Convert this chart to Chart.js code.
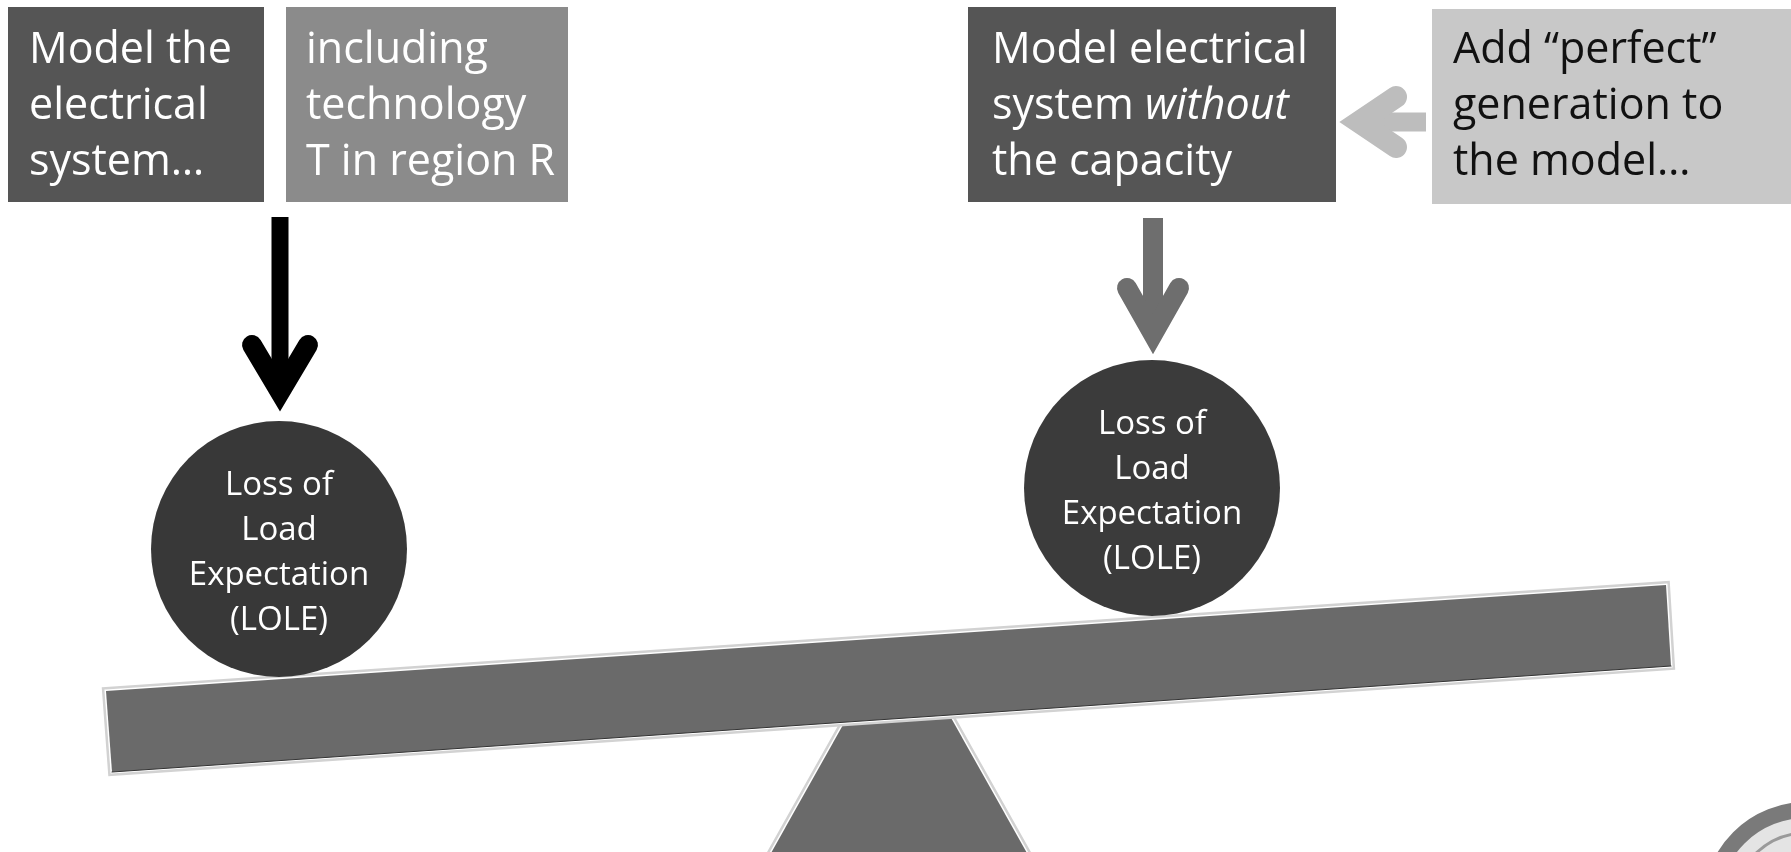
<!DOCTYPE html>
<html lang="en">

<head>
  <meta charset="UTF-8">
  <title>LOLE balance</title>
  <style>
    html, body { margin: 0; padding: 0; background: #ffffff; overflow: hidden; }
    #wrap { width: 1791px; height: 852px; }
  </style>
</head>

<body>
  <div id="wrap">
    <canvas id="myChart" width="1791" height="852"></canvas>
  </div>

  <script src="https://cdn.jsdelivr.net/npm/chart.js"></script>

  <script>
    // texts of the four boxes, one array per box
    const box1Lines = ['Model the', 'electrical', 'system\u2026'];
    const box2Lines = ['including', 'technology', 'T in region R'];
    const box3Lines = ['Model electrical', 'system without', 'the capacity'];
    const box4Lines = ['Add \u201Cperfect\u201D', 'generation to', 'the model\u2026'];
    const italicWords = ['without'];

    // text inside the two balls
    const ballLines = ['Loss of', 'Load', 'Expectation', '(LOLE)'];

    // layout (in scale units, 0..1791 x 0..852)
    const boxRects = [[8, 7, 264, 202], [286, 7, 568, 202], [968, 7, 1336, 202], [1432, 9, 1791, 204]];
    const boxFill = ['#555555', '#8b8b8b', '#555555', '#c8c8c8'];
    const boxInk = ['#ffffff', '#ffffff', '#ffffff', '#111111'];
    const boxTextX = [29, 306, 992, 1453];
    const ballX = [279, 1152];
    const ballY = [549, 488];
    const ballFill = ['#383838', '#3b3b3b'];

    const ctx = document.getElementById('myChart').getContext('2d');

    const diagram = {
      id: 'diagram',
      beforeDatasetsDraw(chart) {
        const c = chart.ctx;
        const sx = chart.scales.x, sy = chart.scales.y;
        const px = v => sx.getPixelForValue(v);
        const py = v => sy.getPixelForValue(v);

        const poly = (pts, fill, halo) => {
          c.beginPath();
          pts.forEach((p, i) => i ? c.lineTo(px(p[0]), py(p[1])) : c.moveTo(px(p[0]), py(p[1])));
          c.closePath();
          if (halo) {
            c.strokeStyle = halo;
            c.lineWidth = 8;
            c.lineJoin = 'miter';
            c.stroke();
            c.strokeStyle = '#ffffff';
            c.lineWidth = 3;
            c.stroke();
          }
          c.fillStyle = fill;
          c.fill();
        };

        const arrow = (tail, tip, barbA, barbB, shaftW, headW, color) => {
          c.strokeStyle = color;
          c.lineCap = 'butt';
          c.lineWidth = shaftW;
          c.beginPath();
          c.moveTo(px(tail[0]), py(tail[1]));
          c.lineTo(px(tip[0]), py(tip[1]));
          c.stroke();
          c.lineWidth = headW;
          c.lineCap = 'round';
          c.lineJoin = 'miter';
          c.miterLimit = 10;
          c.beginPath();
          c.moveTo(px(barbA[0]), py(barbA[1]));
          c.lineTo(px(tip[0]), py(tip[1]));
          c.lineTo(px(barbB[0]), py(barbB[1]));
          c.stroke();
        };

        c.save();

        // boxes
        boxRects.forEach((r, i) => {
          c.fillStyle = boxFill[i];
          c.fillRect(px(r[0]), py(r[1]), px(r[2]) - px(r[0]), py(r[3]) - py(r[1]));
        });

        // box texts
        [box1Lines, box2Lines, box3Lines, box4Lines].forEach((lines, i) => {
          c.fillStyle = boxInk[i];
          c.textBaseline = 'alphabetic';
          c.textAlign = 'left';
          lines.forEach((line, j) => {
            let x = px(boxTextX[i]);
            const y = py(63 + j * 56);
            line.split(/(\s+)/).forEach(word => {
              const it = italicWords.includes(word);
              c.font = (it ? 'italic ' : '') + '43px "Open Sans"';
              c.fillText(word, x, y);
              x += c.measureText(word).width;
            });
          });
        });

        // arrows
        arrow([280, 217], [280, 392], [252, 345], [308, 345], 17, 20, '#000000');
        arrow([1153, 218], [1153, 334], [1127, 288], [1179, 288], 20, 20, '#6e6e6e');
        arrow([1426, 122], [1359, 122], [1396, 97], [1396, 147], 19, 22, '#bdbdbd');

        // fulcrum and beam
        poly([[857, 700], [941, 700], [1032, 862], [766, 862]], '#6a6a6a', '#d2d2d2');
        poly([[106, 691], [1666, 585], [1671, 666], [112, 772]], '#6a6a6a', '#d2d2d2');
        c.strokeStyle = '#333333';
        c.lineWidth = 1.2;
        c.beginPath();
        c.moveTo(px(112), py(772));
        c.lineTo(px(1671), py(666));
        c.stroke();

        // partial seal in the corner
        c.beginPath();
        c.arc(px(1806), py(905), 95, 0, Math.PI * 2);
        c.fillStyle = '#e4e4e4';
        c.fill();
        c.lineWidth = 16;
        c.strokeStyle = '#7a7a7a';
        c.stroke();
        c.beginPath();
        c.arc(px(1806), py(905), 72, 0, Math.PI * 2);
        c.lineWidth = 3;
        c.strokeStyle = '#9a9a9a';
        c.stroke();

        c.restore();
      },
      afterDatasetsDraw(chart) {
        const c = chart.ctx;
        const sx = chart.scales.x, sy = chart.scales.y;
        c.save();
        c.fillStyle = '#ffffff';
        c.font = '33px "Open Sans"';
        c.textAlign = 'center';
        c.textBaseline = 'alphabetic';
        ballX.forEach((bx, i) => {
          ballLines.forEach((line, j) => {
            c.fillText(line, sx.getPixelForValue(bx), sy.getPixelForValue(ballY[i] - 54 + j * 45));
          });
        });
        c.restore();
      }
    };

    new Chart(ctx, {
      type: 'scatter',
      data: {
        datasets: [{
          label: 'LOLE',
          data: ballX.map((x, i) => ({ x: x, y: ballY[i] })),
          backgroundColor: ballFill,
          borderWidth: 0,
          pointRadius: 128,
          pointHoverRadius: 128
        }]
      },
      options: {
        responsive: false,
        animation: false,
        events: [],
        layout: { padding: 0, autoPadding: false },
        scales: {
          x: { type: 'linear', min: 0, max: 1791, display: false },
          y: { type: 'linear', min: 0, max: 852, reverse: true, display: false }
        },
        plugins: {
          legend: { display: false },
          tooltip: { enabled: false }
        }
      },
      plugins: [diagram]
    });
  </script>
</body>

</html>
